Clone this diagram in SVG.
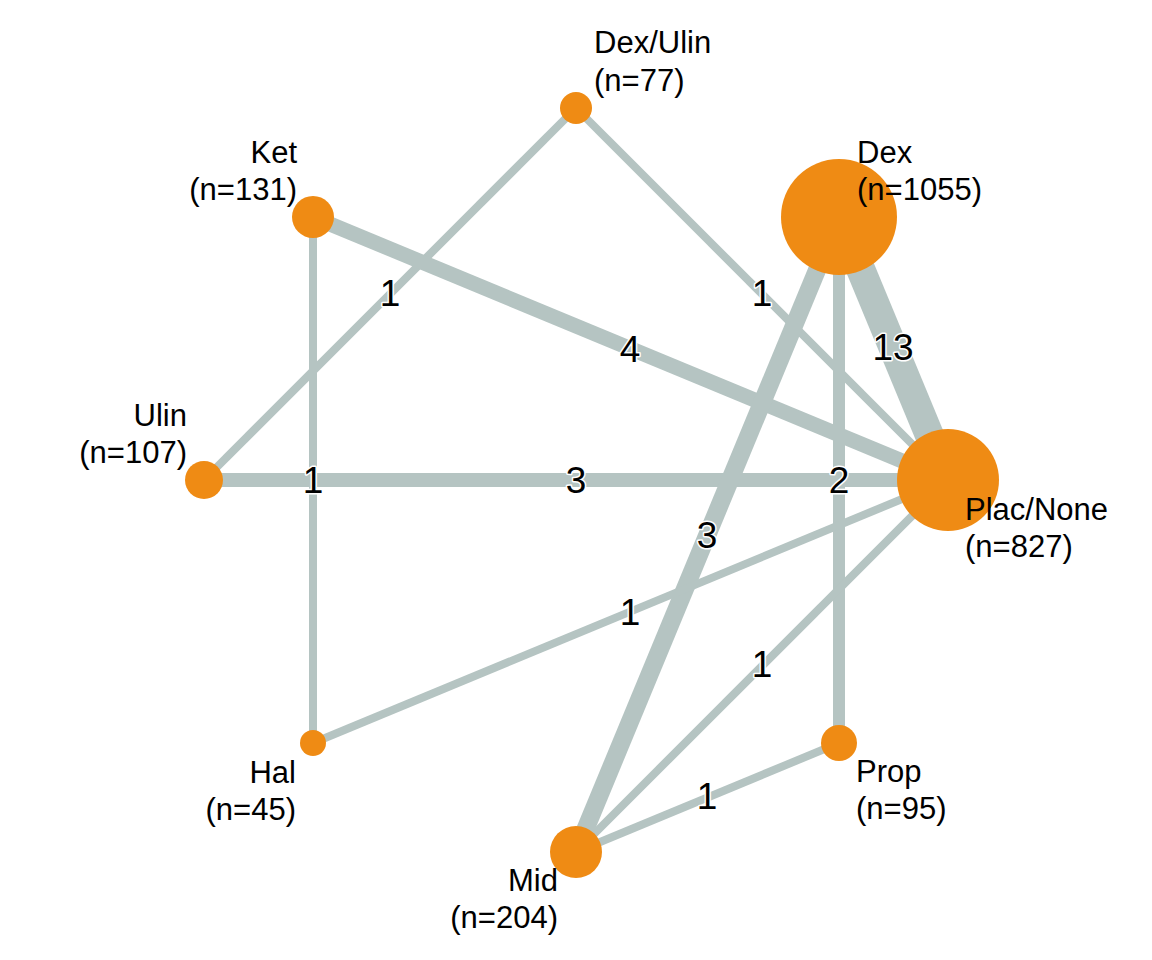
<svg xmlns="http://www.w3.org/2000/svg" width="1152" height="960" viewBox="0 0 1152 960">
<style>
.e{stroke:#b5c4c2;stroke-linecap:butt;fill:none}
.n{fill:#ef8b14}
.nl{font-family:"Liberation Sans",Arial,sans-serif;font-size:31px;fill:#000}
.el{font-family:"Liberation Sans",Arial,sans-serif;font-size:37px;fill:#000;stroke:#fff;stroke-width:3px;paint-order:stroke;stroke-linejoin:round;text-anchor:middle}
</style>
<rect width="1152" height="960" fill="#fff"/>
<g id="connectors">
<line class="e" x1="576" y1="108" x2="204" y2="480" stroke-width="8"/>
<line class="e" x1="576" y1="108" x2="948" y2="480" stroke-width="8"/>
<line class="e" x1="313" y1="217" x2="948" y2="480" stroke-width="15"/>
<line class="e" x1="313" y1="217" x2="313" y2="743" stroke-width="8"/>
<line class="e" x1="204" y1="480" x2="948" y2="480" stroke-width="14"/>
<line class="e" x1="839" y1="217" x2="948" y2="480" stroke-width="29"/>
<line class="e" x1="839" y1="217" x2="839" y2="743" stroke-width="12"/>
<line class="e" x1="839" y1="217" x2="576" y2="852" stroke-width="18"/>
<line class="e" x1="948" y1="480" x2="313" y2="743" stroke-width="8"/>
<line class="e" x1="948" y1="480" x2="576" y2="852" stroke-width="8"/>
<line class="e" x1="839" y1="743" x2="576" y2="852" stroke-width="8"/>
<text class="el" x="390" y="306">1</text>
<text class="el" x="762" y="306">1</text>
<text class="el" x="630" y="362">4</text>
<text class="el" x="313" y="493">1</text>
<text class="el" x="576" y="493">3</text>
<text class="el" x="893" y="360">13</text>
<text class="el" x="839" y="493">2</text>
<text class="el" x="707" y="548">3</text>
<text class="el" x="630" y="625">1</text>
<text class="el" x="762" y="677">1</text>
<text class="el" x="707" y="809">1</text>
</g>
<g id="node-plac">
<circle class="n" cx="948" cy="480" r="51"/>
<text class="nl" x="965" y="520">Plac/None</text>
<text class="nl" x="965" y="557">(n=827)</text>
</g>
<g id="node-dex">
<circle class="n" cx="839" cy="217" r="58"/>
<text class="nl" x="857" y="163">Dex</text>
<text class="nl" x="857" y="200">(n=1055)</text>
</g>
<g id="node-dexulin">
<circle class="n" cx="576" cy="108" r="16"/>
<text class="nl" x="594" y="53">Dex/Ulin</text>
<text class="nl" x="594" y="91">(n=77)</text>
</g>
<g id="node-ket">
<circle class="n" cx="313" cy="217" r="21"/>
<text class="nl" x="297" y="163" text-anchor="end">Ket</text>
<text class="nl" x="297" y="200" text-anchor="end">(n=131)</text>
</g>
<g id="node-ulin">
<circle class="n" cx="204" cy="480" r="19"/>
<text class="nl" x="187" y="426" text-anchor="end">Ulin</text>
<text class="nl" x="187" y="463" text-anchor="end">(n=107)</text>
</g>
<g id="node-hal">
<circle class="n" cx="313" cy="743" r="13"/>
<text class="nl" x="296" y="783" text-anchor="end">Hal</text>
<text class="nl" x="296" y="820" text-anchor="end">(n=45)</text>
</g>
<g id="node-mid">
<circle class="n" cx="576" cy="852" r="26"/>
<text class="nl" x="558" y="891" text-anchor="end">Mid</text>
<text class="nl" x="558" y="928" text-anchor="end">(n=204)</text>
</g>
<g id="node-prop">
<circle class="n" cx="839" cy="743" r="18"/>
<text class="nl" x="856" y="782">Prop</text>
<text class="nl" x="856" y="819">(n=95)</text>
</g>
</svg>
